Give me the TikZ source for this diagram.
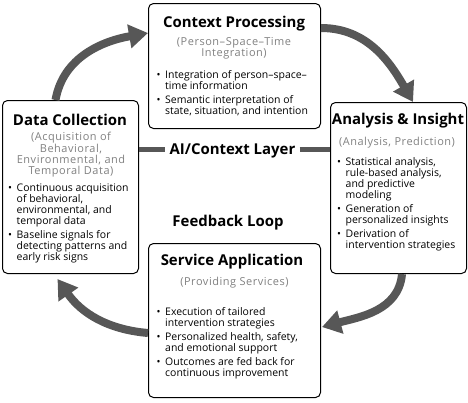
\documentclass[tikz,border=0pt]{standalone}
\usepackage{fontspec}
\setmainfont{Open Sans}
\newfontfamily\subfont[LetterSpace=5]{Open Sans}
\definecolor{ARRcolor}{HTML}{575757}
\definecolor{SUBcolor}{HTML}{818181}
\usetikzlibrary{arrows.meta}

\newcommand{\bul}{\makebox[8.5bp][l]{\textbullet}}
\newcommand{\ind}{\hspace*{8.5bp}}
\newcommand{\tp}{\rule{0pt}{8bp}}

\begin{document}
\begin{tikzpicture}[x=1bp, y=-1bp]
    \tikzset{%
        card/.style={draw=black, line width=1bp, rounded corners=5bp, fill=white, anchor=north west, inner sep=0pt},
        ttl/.style={anchor=base, inner sep=0pt, font=\bfseries\fontsize{15}{18}\selectfont},
        sub/.style={anchor=north, inner sep=0pt, align=center, text=SUBcolor, font=\subfont\fontsize{11}{10.8}\selectfont},
        blist/.style={anchor=north west, inner sep=0pt, align=left, font=\fontsize{10.5}{11}\selectfont},
        flow/.style={ARRcolor, line width=8bp, -{Triangle[width=23bp, length=19bp]}},
        bar/.style={ARRcolor, line width=5bp},
    }

    \useasboundingbox (0, 0) rectangle (468, 402);

    % the four stages
    \node[card, minimum width=172bp, minimum height=125bp] (cp) at (148, 3) {};
    \node[card, minimum width=136bp, minimum height=173bp] (dc) at (2, 100) {};
    \node[card, minimum width=136bp, minimum height=171bp] (an) at (330, 102) {};
    \node[card, minimum width=172bp, minimum height=154bp] (sa) at (148, 243) {};

    % titles
    \node[ttl] (cpttl) at (234, 27) {Context Processing};
    \node[ttl] (dcttl) at (70, 125) {Data Collection};
    \node[ttl] (anttl) at (398, 124.5) {Analysis \& Insight};
    \node[ttl] (sattl) at (232, 265) {Service Application};

    % subtitles (top = first baseline - 8)
    \node[sub] (cpsub) at (234, 37) {\tp(Person\textendash Space\textendash Time\\Integration)};
    \node[sub] (dcsub) at (71, 132) {\tp(Acquisition of\\Behavioral,\\Environmental, and\\Temporal Data)};
    \node[sub] (ansub) at (397, 137) {\tp(Analysis, Prediction)};
    \node[sub] (sasub) at (234.5, 277) {\tp(Providing Services)};

    % bullet lists
    \node[blist] (cplist) at (156.5, 70.3) {\tp\bul Integration of person\textendash space\textendash\\ \ind time information\\[3bp]
        \bul Semantic interpretation of\\ \ind state, situation, and intention};
    \node[blist] (dclist) at (8, 183.7) {\tp\bul Continuous acquisition\\ \ind of behavioral,\\ \ind environmental, and\\ \ind temporal data\\[3bp]
        \bul Baseline signals for\\ \ind detecting patterns and\\ \ind early risk signs};
    \node[blist] (anlist) at (337, 157.7) {\tp\bul Statistical analysis,\\ \ind rule-based analysis,\\ \ind and predictive\\ \ind modeling\\[3bp]
        \bul Generation of\\ \ind personalized insights\\[3bp]
        \bul Derivation of\\ \ind intervention strategies};
    \node[blist] (salist) at (156.5, 307) {\tp\bul Execution of tailored\\ \ind intervention strategies\\[3bp]
        \bul Personalized health, safety,\\ \ind and emotional support\\[3bp]
        \bul Outcomes are fed back for\\ \ind continuous improvement};

    % middle layer
    \node[ttl, inner xsep=4bp] (layer) at (232.5, 154.3) {AI/Context Layer};
    \draw[bar] ([yshift=4.5bp]layer.base west -| dc.east) -- ([yshift=4.5bp]layer.base west);
    \draw[bar] ([yshift=4.5bp]layer.base east) -- ([yshift=4.5bp]layer.base east -| an.west);
    \node[ttl] (loop) at (228, 226.5) {Feedback Loop};

    % loop arrows
    \draw[flow] ([xshift=-15bp]dc.north) to[out=80, in=190] ([yshift=-30bp]cp.north west);
    \draw[flow] ([yshift=-25bp]cp.north east) to[out=0, in=120] ([xshift=83bp]an.north west);
    \draw[flow] ([xshift=72bp]an.south west) to[out=265, in=15] ([xshift=1bp, yshift=-84bp]sa.north east);
    \draw[flow] ([yshift=-90bp]sa.north west) to[out=175, in=-55] ([xshift=-13bp, yshift=-5bp]dc.south);

\end{tikzpicture}
\end{document}
